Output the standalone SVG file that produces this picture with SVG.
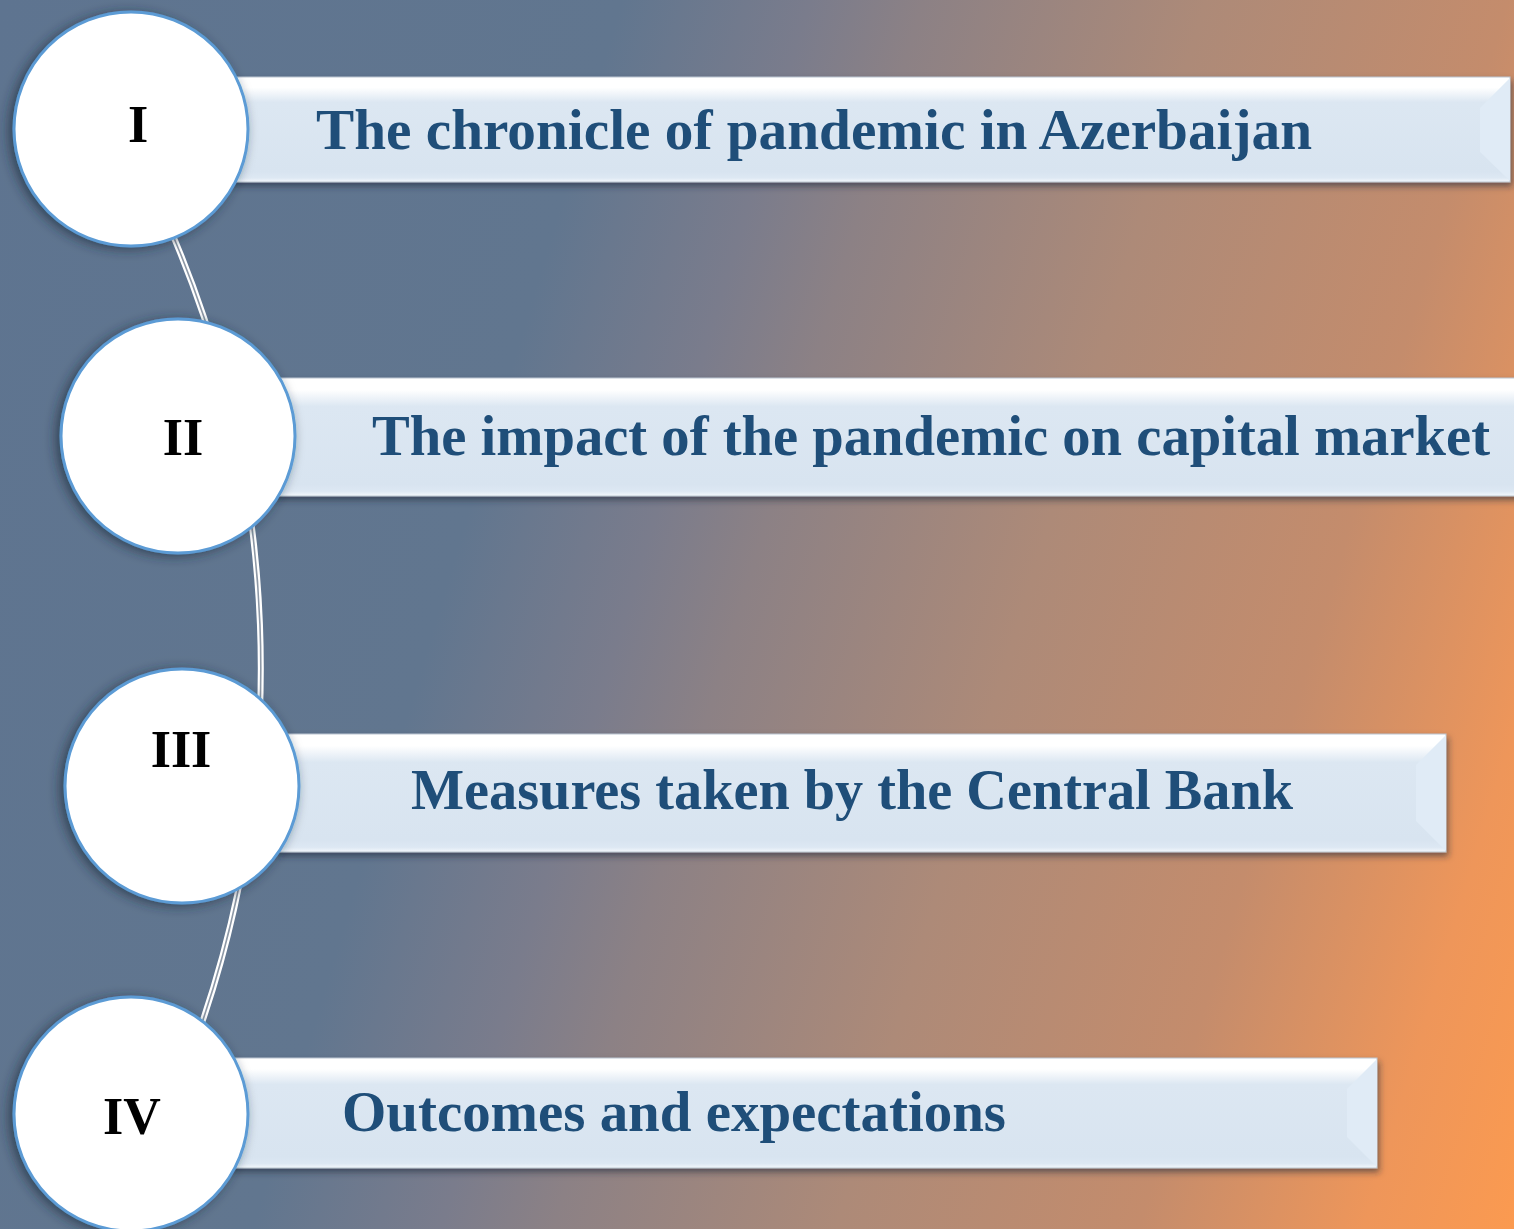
<svg xmlns="http://www.w3.org/2000/svg" width="1514" height="1229" viewBox="0 0 1514 1229">
<defs>
<linearGradient id="bg" gradientUnits="userSpaceOnUse" x1="0" y1="0" x2="1728" y2="520">
<stop offset="0" stop-color="#5e7490"/>
<stop offset="0.33" stop-color="#61768f"/>
<stop offset="0.43" stop-color="#7a7c8c"/>
<stop offset="0.49" stop-color="#8c8185"/>
<stop offset="0.64" stop-color="#ad8a78"/>
<stop offset="0.8" stop-color="#c48c6c"/>
<stop offset="0.92" stop-color="#ee965a"/>
<stop offset="1" stop-color="#fb9a50"/>
</linearGradient>
<linearGradient id="barfill" x1="0" y1="0" x2="0" y2="1">
<stop offset="0" stop-color="#ffffff"/>
<stop offset="0.1" stop-color="#ffffff"/>
<stop offset="0.24" stop-color="#dce7f2"/>
<stop offset="0.9" stop-color="#d8e4f0"/>
<stop offset="0.96" stop-color="#dde8f3"/>
<stop offset="1" stop-color="#f4f8fc"/>
</linearGradient>
<filter id="sh" x="-10%" y="-30%" width="120%" height="170%">
<feDropShadow dx="2" dy="4" stdDeviation="3" flood-color="#1e2a3a" flood-opacity="0.55"/>
</filter>
<filter id="csh" x="-20%" y="-20%" width="140%" height="140%">
<feDropShadow dx="-4" dy="2" stdDeviation="6" flood-color="#1e2a3a" flood-opacity="0.65"/>
</filter>
</defs>
<style>
.bar{fill:url(#barfill);stroke:#b9c4cf;stroke-width:1}
.bev{fill:#e0ebf6}
.circ{fill:#ffffff;stroke:#5b9bd5;stroke-width:3}
.lbl{font-family:"Liberation Serif","DejaVu Serif",serif;font-weight:bold;fill:#1f4e79;font-size:56px}
.num{font-family:"Liberation Serif","Times New Roman",serif;font-weight:bold;fill:#000000;font-size:52px;text-anchor:middle}
.c1{fill:none;stroke:#ffffff;stroke-width:6}
.c2{fill:none;stroke:#8d98a6;stroke-width:1.6}
</style>
<rect x="0" y="0" width="1514" height="1229" fill="url(#bg)"/>

<g id="connectors">
<path class="c1" d="M164,215 A1105,1105 0 0 1 196,1040"/>
<path class="c2" d="M164,215 A1105,1105 0 0 1 196,1040"/>
</g>

<g id="bar1" filter="url(#sh)">
<rect class="bar" x="225" y="77" width="1285" height="105"/>
<polygon class="bev" points="1510,78 1480,108 1480,152 1510,181"/>
</g>
<g id="bar2" filter="url(#sh)">
<rect class="bar" x="265" y="378" width="1260" height="118"/>
</g>
<g id="bar3" filter="url(#sh)">
<rect class="bar" x="275" y="734" width="1171" height="118"/>
<polygon class="bev" points="1446,735 1416,765 1416,821 1446,851"/>
</g>
<g id="bar4" filter="url(#sh)">
<rect class="bar" x="225" y="1058" width="1152" height="110"/>
<polygon class="bev" points="1377,1059 1347,1089 1347,1137 1377,1167"/>
</g>

<g id="node1">
<circle class="circ" cx="131" cy="129" r="117" filter="url(#csh)"/>
<text class="num" x="138" y="142">I</text>
<text class="lbl" x="316" y="149" textLength="996" lengthAdjust="spacingAndGlyphs">The chronicle of pandemic in Azerbaijan</text>
</g>
<g id="node2">
<circle class="circ" cx="178" cy="436" r="117" filter="url(#csh)"/>
<text class="num" x="183" y="455">II</text>
<text class="lbl" x="372" y="455" textLength="1118" lengthAdjust="spacingAndGlyphs">The impact of the pandemic on capital market</text>
</g>
<g id="node3">
<circle class="circ" cx="182" cy="786" r="117" filter="url(#csh)"/>
<text class="num" x="181" y="767">III</text>
<text class="lbl" x="411" y="809" textLength="882" lengthAdjust="spacingAndGlyphs">Measures taken by the Central Bank</text>
</g>
<g id="node4">
<circle class="circ" cx="131" cy="1114" r="117" filter="url(#csh)"/>
<text class="num" x="132" y="1134">IV</text>
<text class="lbl" x="342" y="1131" textLength="664" lengthAdjust="spacingAndGlyphs">Outcomes and expectations</text>
</g>
</svg>
